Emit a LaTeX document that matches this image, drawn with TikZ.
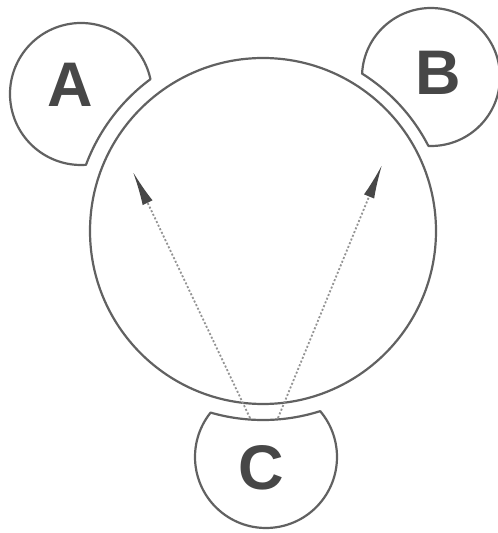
\documentclass[tikz,border=0pt]{standalone}
\usepackage{fontspec}
\setmainfont{Liberation Sans}
\usetikzlibrary{arrows.meta}
\tikzset{
  ring/.style={draw=black!62, line width=2.2pt, line join=round},
  letter/.style={font=\fontsize{63}{63}\selectfont\bfseries, text=black!72, inner sep=0pt},
  ray/.style={draw=black!42, line width=1.8pt, dash pattern=on 2pt off 2pt,
    -{Latex[length=34pt,width=11pt,color=black!72]}}
}
\newcommand\ringshape[4]{% cx, cy, r, Rc (big circle centre 263,302)
  \pgfmathsetmacro\ddd{100*veclen((#1-263)/100,(#2-302)/100)}
  \pgfmathsetmacro\thc{atan2(302-#2,263-#1)}
  \pgfmathsetmacro\alp{acos(((#3/100)^2+(\ddd/100)^2-(#4/100)^2)/(2*(#3/100)*(\ddd/100)))}
  \pgfmathsetmacro\bet{acos(((#4/100)^2+(\ddd/100)^2-(#3/100)^2)/(2*(#4/100)*(\ddd/100)))}
  \pgfmathsetmacro\tho{\thc+180}
  \draw[ring] (#1pt,#2pt) ++(\thc+\alp:#3pt)
    arc[start angle=\thc+\alp, end angle=\thc-\alp+360, radius=#3pt]
    arc[start angle=\tho+\bet, end angle=\tho-\bet, radius=#4pt] -- cycle;
}
\begin{document}
\begin{tikzpicture}[x=1pt,y=1pt]
  \useasboundingbox (0,0) rectangle (498,533);
  \fill[white] (0,0) rectangle (498,533);
  % big circle
  \node[circle, draw=black!62, line width=2.2pt, minimum size=346pt, inner sep=0pt] (big) at (263,302) {};
  % small cut circles
  \ringshape{81}{439}{71}{189}
  \ringshape{431}{456}{69}{186}
  \ringshape{266}{76}{71}{189}
  % letters
  \node[letter] (A) at (70,448) {A};
  \node[letter] (B) at (438,460) {B};
  \node[letter] (C) at (261,65) {C};
  % rays
  \coordinate (s1) at (250,115);
  \coordinate (s2) at (278,115);
  \coordinate (t1) at (133,361);
  \coordinate (t2) at (382,368);
  \draw[ray] (s1) -- (t1);
  \draw[ray] (s2) -- (t2);
\end{tikzpicture}
\end{document}
